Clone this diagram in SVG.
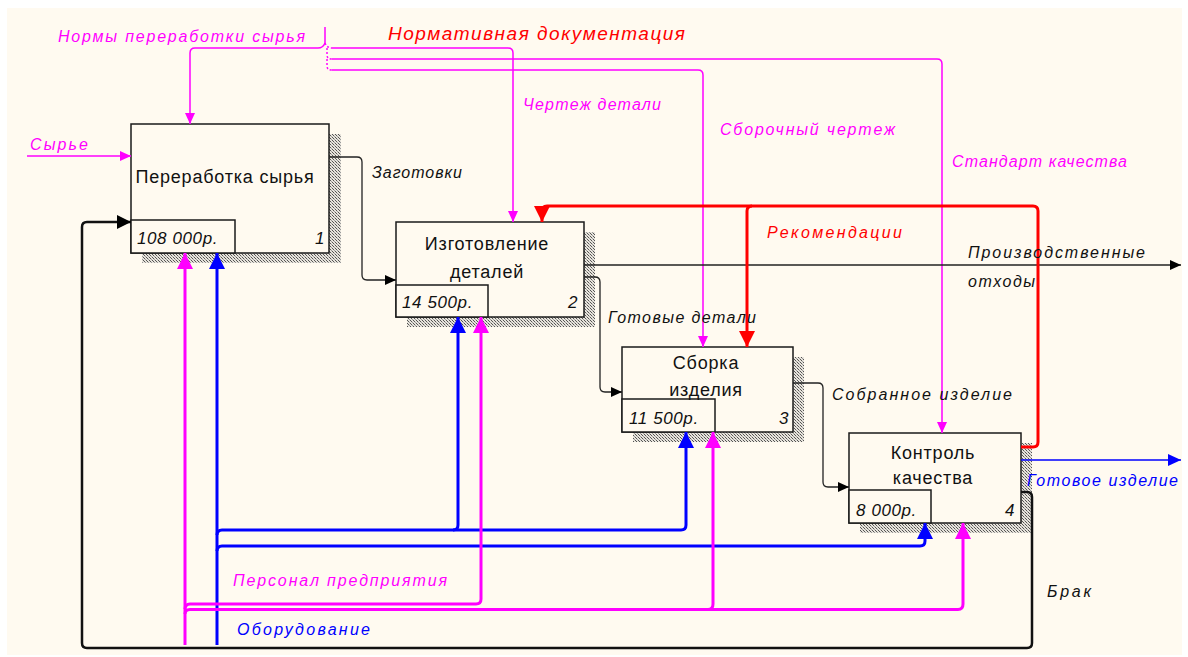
<svg xmlns="http://www.w3.org/2000/svg" width="1188" height="657" viewBox="0 0 1188 657">
<defs>
<pattern id="hatch" width="3" height="3" patternUnits="userSpaceOnUse">
<rect width="3" height="3" fill="#e8e4dc"/>
<rect x="0" y="0" width="1" height="1" fill="#555"/>
<rect x="1" y="1" width="1" height="1" fill="#999"/>
<rect x="2" y="2" width="1" height="1" fill="#555"/>
</pattern>
<marker id="aMT" markerUnits="userSpaceOnUse" markerWidth="12" markerHeight="10" refX="11" refY="5" orient="auto"><path d="M0,0 L11,5 L0,10 Z" fill="#ff00ff"/></marker>
<marker id="aKT" markerUnits="userSpaceOnUse" markerWidth="12" markerHeight="10" refX="11" refY="5" orient="auto"><path d="M0,0 L11,5 L0,10 Z" fill="#000"/></marker>
<marker id="aBT" markerUnits="userSpaceOnUse" markerWidth="14" markerHeight="12" refX="13" refY="6" orient="auto"><path d="M0,0 L13,6 L0,12 Z" fill="#0000ff"/></marker>
<marker id="aMB" markerUnits="userSpaceOnUse" markerWidth="17" markerHeight="16" refX="16" refY="8" orient="auto"><path d="M0,0 L16,8 L0,16 Z" fill="#ff00ff"/></marker>
<marker id="aBB" markerUnits="userSpaceOnUse" markerWidth="17" markerHeight="16" refX="16" refY="8" orient="auto"><path d="M0,0 L16,8 L0,16 Z" fill="#0000ff"/></marker>
<marker id="aRB" markerUnits="userSpaceOnUse" markerWidth="17" markerHeight="16" refX="16" refY="8" orient="auto"><path d="M0,0 L16,8 L0,16 Z" fill="#ff0000"/></marker>
<marker id="aKB" markerUnits="userSpaceOnUse" markerWidth="15" markerHeight="14" refX="14" refY="7" orient="auto"><path d="M0,0 L14,7 L0,14 Z" fill="#000"/></marker>
</defs>
<style>
.bg{fill:#fffaf0}
.box{fill:#fffaf0;stroke:#1a1a1a;stroke-width:1.5}
.sh{fill:url(#hatch)}
.t{font-family:"Liberation Sans",Arial,sans-serif;font-size:18px;fill:#111;letter-spacing:0.8px}
.c{font-family:"Liberation Sans",Arial,sans-serif;font-size:17px;font-style:italic;fill:#111;letter-spacing:0.6px}
.l{font-family:"Liberation Sans",Arial,sans-serif;font-size:16px;font-style:italic}
.lm{fill:#ff00ff}.lb{fill:#0000ff}.lr{fill:#ff0000}.lk{fill:#111}
.mt{fill:none;stroke:#ff00ff;stroke-width:1.5}
.kt{fill:none;stroke:#222;stroke-width:1.3}
.bt{fill:none;stroke:#0000ff;stroke-width:1.5}
.mb{fill:none;stroke:#ff00ff;stroke-width:3}
.bb{fill:none;stroke:#0000ff;stroke-width:3}
.rb{fill:none;stroke:#ff0000;stroke-width:3}
.kb{fill:none;stroke:#111;stroke-width:2.5}
</style>
<rect width="1188" height="657" fill="#ffffff"/>
<rect class="bg" x="7" y="8" width="1175" height="647"/>

<g id="node1">
<rect class="sh" x="142" y="134" width="199" height="129"/>
<rect class="box" x="131" y="124" width="198" height="129"/>
<rect class="box" x="131" y="220" width="104" height="33"/>
<text class="t" x="225" y="183" text-anchor="middle">Переработка сырья</text>
<text class="c" x="137" y="244">108 000р.</text>
<text class="c" x="325" y="244" text-anchor="end">1</text>
</g>
<g id="node2">
<rect class="sh" x="407" y="232" width="188" height="95"/>
<rect class="box" x="396" y="222" width="188" height="95"/>
<rect class="box" x="396" y="285" width="92" height="32"/>
<text class="t" x="487" y="250" text-anchor="middle">Изготовление</text>
<text class="t" x="487" y="278" text-anchor="middle">деталей</text>
<text class="c" x="402" y="308">14 500р.</text>
<text class="c" x="578" y="308" text-anchor="end">2</text>
</g>
<g id="node3">
<rect class="sh" x="633" y="357" width="171" height="85"/>
<rect class="box" x="622" y="347" width="171" height="85"/>
<rect class="box" x="622" y="399" width="93" height="33"/>
<text class="t" x="706" y="369" text-anchor="middle">Сборка</text>
<text class="t" x="706" y="396" text-anchor="middle">изделия</text>
<text class="c" x="629" y="424">11 500р.</text>
<text class="c" x="789" y="424" text-anchor="end">3</text>
</g>
<g id="node4">
<rect class="sh" x="860" y="443" width="172" height="90"/>
<rect class="box" x="849" y="433" width="172" height="90"/>
<rect class="box" x="849" y="490" width="82" height="33"/>
<text class="t" x="933" y="459" text-anchor="middle">Контроль</text>
<text class="t" x="933" y="484" text-anchor="middle">качества</text>
<text class="c" x="856" y="516">8 000р.</text>
<text class="c" x="1015" y="516" text-anchor="end">4</text>
</g>

<g id="connectors">
<path class="mt" d="M27,156 H131" marker-end="url(#aMT)"/>
<path class="mt" d="M325,27 V43"/>
<path class="mt" d="M325,43 Q323,48 318,48 H195 Q190,48 190,53 V124" marker-end="url(#aMT)"/>
<path class="mt" stroke-dasharray="2,2" d="M325,43 Q327,48 332,48 M327,48 V55 Q327,59 332,59 M327,59 V66 Q327,70 332,70"/>
<path class="mt" d="M332,48 H508 Q513,48 513,53 V222" marker-end="url(#aMT)"/>
<path class="mt" d="M332,59 H937 Q942,59 942,64 V433" marker-end="url(#aMT)"/>
<path class="mt" d="M332,70 H698 Q703,70 703,75 V347" marker-end="url(#aMT)"/>

<path class="kt" d="M329,157 H357 Q362,157 362,162 V275 Q362,280 367,280 H396" marker-end="url(#aKT)"/>
<path class="kt" d="M584,265 H1181" marker-end="url(#aKT)"/>
<path class="kt" d="M584,277 H595 Q600,277 600,282 V387 Q600,392 605,392 H622" marker-end="url(#aKT)"/>
<path class="kt" d="M793,383 H818 Q823,383 823,388 V482 Q823,487 828,487 H849" marker-end="url(#aKT)"/>

<path class="rb" d="M1021,447 H1033 Q1038,447 1038,442 V211 Q1038,206 1033,206 H547 Q542,206 542,211 V222" marker-end="url(#aRB)"/>
<path class="rb" d="M752,206 Q747,206 747,211 V347" marker-end="url(#aRB)"/>

<path class="bt" d="M1021,460 H1181" marker-end="url(#aBT)"/>

<path class="kb" d="M1021,492 H1027 Q1032,492 1032,497 V643 Q1032,648 1027,648 H87 Q82,648 82,643 V227 Q82,222 87,222 H131" marker-end="url(#aKB)"/>

<path class="bb" d="M217,645 V253" marker-end="url(#aBB)"/>
<path class="bb" d="M217,535 Q217,530 222,530 H681 Q686,530 686,525 V432" marker-end="url(#aBB)"/>
<path class="bb" d="M453,530 Q458,530 458,525 V317" marker-end="url(#aBB)"/>
<path class="bb" d="M217,551 Q217,546 222,546 H920 Q925,546 925,541 V523" marker-end="url(#aBB)"/>

<path class="mb" d="M185,645 V253" marker-end="url(#aMB)"/>
<path class="mb" d="M185,609 Q185,604 190,604 H476 Q481,604 481,599 V317" marker-end="url(#aMB)"/>
<path class="mb" d="M185,614 Q185,609.5 190,609.5 H958 Q963,609.5 963,604 V523" marker-end="url(#aMB)"/>
<path class="mb" d="M708,609.5 Q713,609.5 713,604 V432" marker-end="url(#aMB)"/>
</g>

<g id="labels">
<text class="l lm" x="58" y="42" textLength="247" lengthAdjust="spacing">Нормы переработки сырья</text>
<text class="l lr" x="388" y="40" style="font-size:19px" textLength="297" lengthAdjust="spacing">Нормативная документация</text>
<text class="l lm" x="523" y="110" textLength="138" lengthAdjust="spacing">Чертеж детали</text>
<text class="l lm" x="720" y="135" textLength="175" lengthAdjust="spacing">Сборочный чертеж</text>
<text class="l lm" x="952" y="167" textLength="175" lengthAdjust="spacing">Стандарт качества</text>
<text class="l lm" x="30" y="150" textLength="58" lengthAdjust="spacing">Сырье</text>
<text class="l lk" x="372" y="178" textLength="90" lengthAdjust="spacing">Заготовки</text>
<text class="l lr" x="767" y="238" textLength="135" lengthAdjust="spacing">Рекомендации</text>
<text class="l lk" x="968" y="258" textLength="177" lengthAdjust="spacing">Производственные</text>
<text class="l lk" x="968" y="287" textLength="67" lengthAdjust="spacing">отходы</text>
<text class="l lk" x="608" y="323" textLength="148" lengthAdjust="spacing">Готовые детали</text>
<text class="l lk" x="832" y="400" textLength="180" lengthAdjust="spacing">Собранное изделие</text>
<text class="l lb" x="1027" y="486" textLength="151" lengthAdjust="spacing">Готовое изделие</text>
<text class="l lk" x="1047" y="597" textLength="44" lengthAdjust="spacing">Брак</text>
<text class="l lm" x="233" y="586" textLength="214" lengthAdjust="spacing">Персонал предприятия</text>
<text class="l lb" x="237" y="635" textLength="133" lengthAdjust="spacing">Оборудование</text>
</g>
</svg>
